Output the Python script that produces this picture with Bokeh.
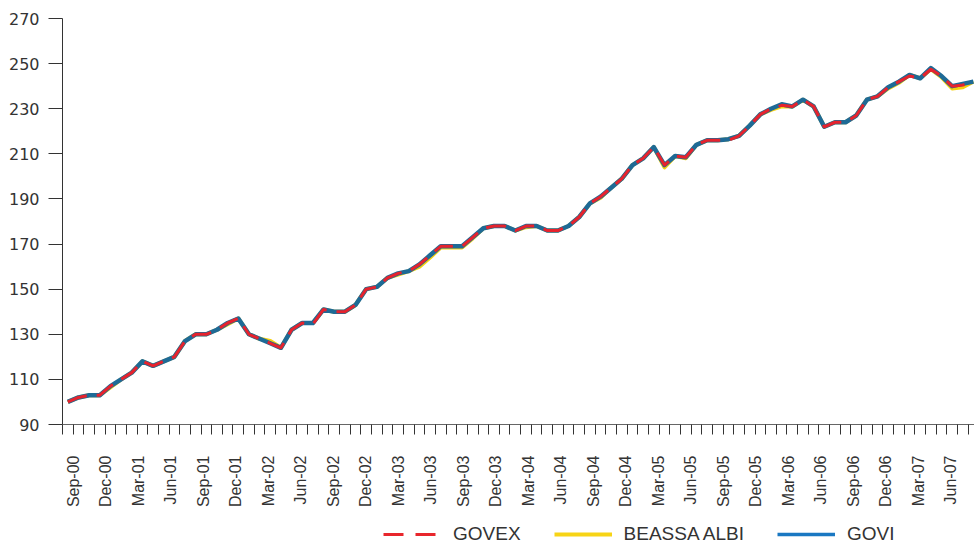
import math
from bokeh.plotting import figure
from bokeh.layouts import column
from bokeh.models import (FixedTicker, Legend, LegendItem, Range1d,
                          CustomJSTickFormatter, ColumnDataSource)
from bokeh.embed import file_html
from bokeh.resources import INLINE

# ---- data ----
govi = [100, 102, 103, 103, 107, 110, 113, 118, 116, 118,
        120, 127, 130, 130, 132, 135, 137, 130, 128, 126,
        124, 132, 135, 135, 141, 140, 140, 143, 150, 151,
        155, 157, 158, 161, 165, 169, 169, 169, 173, 177,
        178, 178, 176, 178, 178, 176, 176, 178, 182, 188,
        191, 195, 199, 205, 208, 213, 205, 209, 208.5, 214,
        216, 216, 216.5, 218, 222.5, 227.5, 230, 232, 231, 234,
        231, 222, 224, 224, 227, 234, 235.5, 239.5, 242, 245,
        243.5, 248, 244.5, 240, 241, 242]

govex = [100, 102, 103, 103, 107, 110, 113, 118, 116, 118,
         120, 127, 130, 130, 132, 135, 137, 130, 128, 126,
         124, 132, 135, 134.5, 141, 140, 140, 143, 150, 151,
         155, 157, 158, 161, 165, 169, 169, 169, 173, 177,
         178, 178, 176, 178, 178, 176, 176, 178, 182, 188,
         191, 195, 199, 205, 208, 213, 205, 209, 208.5, 214,
         216, 216, 216, 218, 222.5, 227.5, 230, 231.5, 231, 234,
         231, 222, 224, 224, 227, 234, 235.5, 239.5, 242, 244.5,
         243.5, 247.5, 244.5, 240, 240.5, 242]

albi = [100, 102, 103, 103, 106.5, 110, 113, 118, 116, 118,
        120, 127, 130, 130, 132, 134.5, 137, 130, 128, 127,
        124, 132, 135, 135, 141, 140, 140, 143, 150, 151,
        155, 156.5, 158, 160, 164, 168.5, 168.5, 168.5, 172.5, 177,
        178, 178, 176, 177.5, 178, 176, 176, 178, 182, 188,
        190.5, 195, 199, 205, 208, 213, 204, 209, 208, 214,
        216, 216, 216.5, 218, 222.5, 227.5, 229.5, 231, 231, 234,
        231, 222, 224, 224, 227, 234, 235.5, 239, 241.5, 245,
        243.5, 247.5, 244, 239, 239.5, 242]

tick_labels = ["Sep-00", "Dec-00", "Mar-01", "Jun-01", "Sep-01", "Dec-01",
               "Mar-02", "Jun-02", "Sep-02", "Dec-02", "Mar-03", "Jun-03",
               "Sep-03", "Dec-03", "Mar-04", "Jun-04", "Sep-04", "Dec-04",
               "Mar-05", "Jun-05", "Sep-05", "Dec-05", "Mar-06", "Jun-06",
               "Sep-06", "Dec-06", "Mar-07", "Jun-07"]

y_ticks = [90, 110, 130, 150, 170, 190, 210, 230, 250, 270]

series_names = ["GOVEX", "BEASSA ALBI", "GOVI"]

# ---- main figure ----
n = len(govi)
x = list(range(n))
src = ColumnDataSource(dict(x=x, govi=govi, govex=govex, albi=albi))

p = figure(width=974, height=519, output_backend="svg", toolbar_location=None,
           x_range=Range1d(-0.5, 85.1), y_range=Range1d(90, 270),
           min_border_left=62, min_border_right=0, min_border_top=18,
           min_border_bottom=95)
p.outline_line_color = None
p.grid.visible = False
p.background_fill_color = "white"
p.border_fill_color = "white"

p.line("x", "albi", source=src, color="#F5D010", line_width=4, line_join="round")
p.line("x", "govi", source=src, color="#1E6A96", line_width=4.5, line_join="round")
p.line("x", "govex", source=src, color="#E6232D", line_width=3, line_dash="20 10",
       line_join="round")

# ---- x axis ----
label_pos = [0.5 + 3.05 * j for j in range(len(tick_labels))]
xa = p.xaxis[0]
xa.ticker = FixedTicker(ticks=label_pos, minor_ticks=[k - 0.5 for k in range(n + 1)])
xa.formatter = CustomJSTickFormatter(args=dict(labels=tick_labels),
                                     code="return labels[index];")
xa.major_tick_line_color = None
xa.major_tick_out = 0
xa.major_tick_in = 0
xa.minor_tick_out = 10
xa.minor_tick_in = 0
xa.minor_tick_line_color = "#333333"
xa.axis_line_color = "#666666"
xa.major_label_orientation = math.pi / 2
xa.major_label_standoff = 21
xa.major_label_text_font = "Liberation Sans"
xa.major_label_text_font_size = "16px"
xa.major_label_text_color = "#333333"

# ---- y axis ----
ya = p.yaxis[0]
ya.ticker = FixedTicker(ticks=y_ticks, minor_ticks=[])
ya.major_tick_out = 14
ya.major_tick_in = 0
ya.major_tick_line_color = "#333333"
ya.axis_line_color = "#333333"
ya.major_label_standoff = 9
ya.major_label_text_font = "DejaVu Sans"
ya.major_label_text_font_size = "16px"
ya.major_label_text_color = "#333333"

# ---- legend strip ----
lg = figure(width=974, height=26, output_backend="svg", toolbar_location=None,
            x_range=Range1d(0, 1), y_range=Range1d(0, 1), min_border=0)
lg.axis.visible = False
lg.grid.visible = False
lg.outline_line_color = None
lg.background_fill_color = "white"
lg.border_fill_color = "white"
# legend-only renderers: their data lie outside the strip's ranges
off = [2, 3]
r1 = lg.line(x=off, y=off, color="#E8262C", line_width=3, line_dash="20 12")
r2 = lg.line(x=off, y=off, color="#F7D416", line_width=4)
r3 = lg.line(x=off, y=off, color="#1A78C2", line_width=3.5)
legend = Legend(items=[LegendItem(label=series_names[0], renderers=[r1]),
                       LegendItem(label=series_names[1], renderers=[r2]),
                       LegendItem(label=series_names[2], renderers=[r3])],
                orientation="horizontal", location=(321, 0),
                glyph_width=58, glyph_height=20, label_standoff=12, spacing=33,
                padding=0, margin=0, border_line_color=None,
                background_fill_alpha=0,
                label_text_font="Liberation Sans", label_text_font_size="19px",
                label_text_color="#333333")
lg.add_layout(legend)

layout = column(p, lg, spacing=0)
open("out.html", "w").write(file_html(layout, INLINE))
